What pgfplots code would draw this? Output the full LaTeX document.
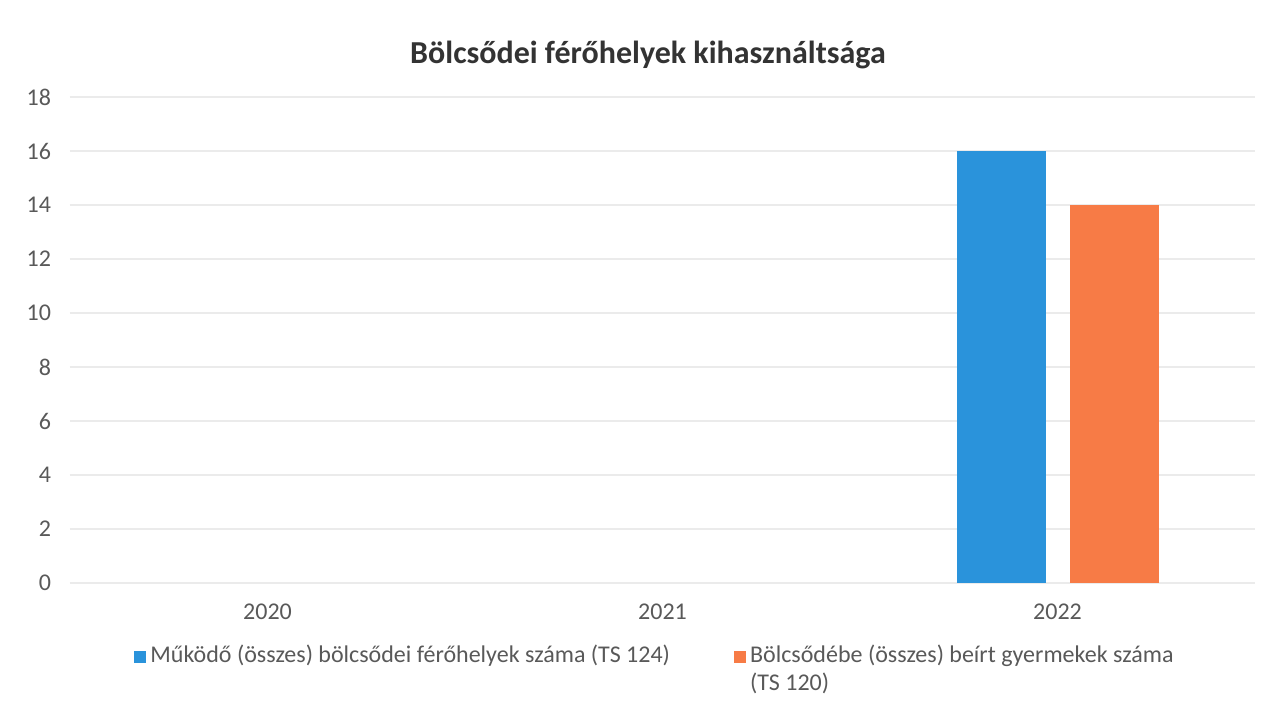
\documentclass[border=0pt]{standalone}
\usepackage{pgfplots}
\pgfplotsset{compat=1.18}
\usepackage{fontspec}
\setmainfont{Carlito}
\definecolor{cblue}{HTML}{2A93DB}
\definecolor{corange}{HTML}{F77B46}
\definecolor{tgray}{HTML}{595959}
\definecolor{ggray}{HTML}{EBEBEB}
\definecolor{ttl}{HTML}{333333}
\begin{document}
\begin{tikzpicture}[x=1pt,y=1pt]
\path[use as bounding box, fill=white] (0,0) rectangle (637.5,357.5);
\node[font=\bfseries\fontsize{16}{19}\selectfont, text=ttl] at (324,330) {Bölcsődei férőhelyek kihasználtsága};
\begin{axis}[
  at={(35pt,66pt)}, anchor=south west,
  scale only axis, width=592.5pt, height=243pt,
  xmin=-0.5, xmax=2.5, ymin=0, ymax=18,
  ytick={0,2,...,18}, xtick={0,1,2}, xticklabels={2020,2021,2022},
  ymajorgrids, grid style={ggray, line width=0.6pt},
  axis line style={draw=none}, major tick length=0pt,
  ybar=12pt, bar width=44.5pt,
  tick label style={font=\fontsize{12}{14}\selectfont, text=tgray},
  yticklabel style={xshift=-6pt},
  xticklabel style={yshift=-7pt},
  /pgf/number format/assume math mode=true,
  legend style={at={(0.049,-0.111)}, anchor=north west, draw=none, fill=none,
    legend columns=2, font=\fontsize{12}{14}\selectfont, text=tgray,
    cells={anchor=base west},
    /tikz/every even column/.append style={column sep=30pt}},
  legend image code/.code={\fill[#1] (0pt,-0.2pt) rectangle (6pt,5.8pt);},
]
\addplot[fill=cblue, draw=none] coordinates {(2,16)};
\addplot[fill=corange, draw=none] coordinates {(2,14)};
\legend{Működő (összes) bölcsődei férőhelyek száma (TS 124), {\parbox[t]{220pt}{Bölcsődébe (összes) beírt gyermekek száma\\(TS 120)}}}
\end{axis}
\end{tikzpicture}
\end{document}
